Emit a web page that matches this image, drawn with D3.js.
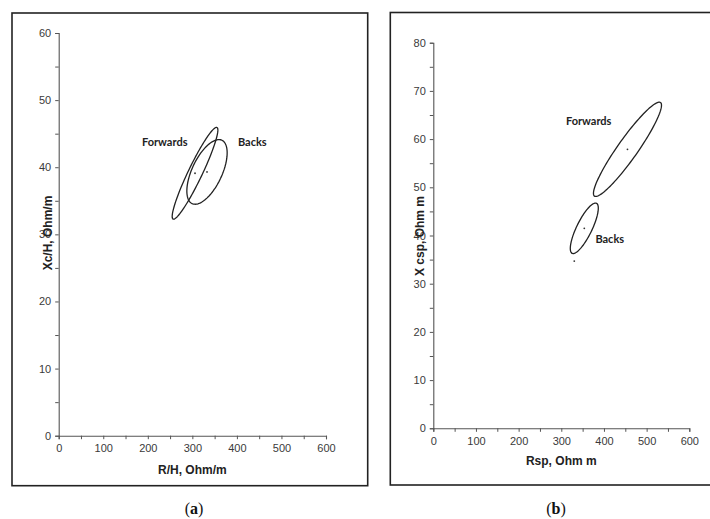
<!DOCTYPE html>
<html>
<head>
<meta charset="utf-8">
<script src="https://cdn.jsdelivr.net/npm/d3@7"></script>
<style>
  body { margin: 0; background: #fff; }
  svg { display: block; }
  .tick text { font-family: "Liberation Sans", Arial, sans-serif; font-size: 11px; fill: #3a3a3a; }
  .domain, .tick line { stroke: #555; }
</style>
</head>
<body>
<div id="chart"></div>
<script>
// panel (a): R/H vs Xc/H
const groupsA = ["Forwards", "Backs"];
const centersA = [[306, 39.1], [332.9, 39.3]];
const tipsA = [[355.3, 45.93], [366.3, 44.02]];   // end of major axis
const sidesA = [[320.1, 38.64], [363.4, 38.35]];  // end of minor axis
const labelPosA = [[238, 43.8], [434.6, 43.8]];

// panel (b): Rsp vs Xcsp
const groupsB = ["Forwards", "Backs"];
const centersB = [[455.1, 57.88], [353.9, 41.49]];
const tipsB = [[532.5, 67.59], [382.5, 46.68]];
const sidesB = [[474.3, 56.70], [370.0, 40.79]];
const labelPosB = [[364.2, 63.8], [413.6, 39.3]];
const strayB = [[330.4, 34.7]];

const xTicks = d3.range(0, 601, 50);
const yTicksA = d3.range(0, 61, 5);
const yTicksB = d3.range(0, 81, 5);

const W = 710, H = 519;
const svg = d3.select("#chart").append("svg")
    .attr("width", W)
    .attr("height", H);

function drawPanel(p) {
    // frame
    svg.append("rect")
        .attr("x", p.box[0]).attr("y", p.box[1])
        .attr("width", p.box[2]).attr("height", p.box[3])
        .attr("fill", "none")
        .attr("stroke", "#222")
        .attr("stroke-width", 1.6);

    const x = d3.scaleLinear().domain([0, 600]).range(p.xr);
    const y = d3.scaleLinear().domain([0, p.ymax]).range(p.yr);

    svg.append("g")
        .attr("transform", `translate(0,${p.yr[0]})`)
        .call(d3.axisBottom(x).tickValues(xTicks).tickSize(3.5).tickPadding(5)
            .tickFormat(d => d % 100 === 0 ? d : ""));

    svg.append("g")
        .attr("transform", `translate(${p.xr[0]},0)`)
        .call(d3.axisLeft(y).tickValues(p.yTicks).tickSize(3.5).tickPadding(4)
            .tickFormat(d => d % 10 === 0 ? d : ""));

    svg.selectAll(".domain").attr("stroke-width", 1.1);

    // ellipses in data space
    const ts = d3.range(0, 2 * Math.PI + 0.001, Math.PI / 60);
    const line = d3.line().x(d => x(d[0])).y(d => y(d[1]));
    p.centers.forEach((c, i) => {
        const u = [p.tips[i][0] - c[0], p.tips[i][1] - c[1]];
        const v = [p.sides[i][0] - c[0], p.sides[i][1] - c[1]];
        const pts = ts.map(t => [c[0] + Math.cos(t) * u[0] + Math.sin(t) * v[0],
                                 c[1] + Math.cos(t) * u[1] + Math.sin(t) * v[1]]);
        svg.append("path")
            .attr("d", line(pts))
            .attr("fill", "none")
            .attr("stroke", "#222")
            .attr("stroke-width", 1.3);
    });

    svg.selectAll(null)
        .data(p.centers.concat(p.stray || []))
        .enter().append("circle")
        .attr("cx", d => x(d[0]))
        .attr("cy", d => y(d[1]))
        .attr("r", 0.9)
        .attr("fill", "#333");

    svg.selectAll(null)
        .data(p.groups)
        .enter().append("text")
        .attr("x", (d, i) => x(p.labelPos[i][0]))
        .attr("y", (d, i) => y(p.labelPos[i][1]))
        .attr("dy", "0.35em")
        .attr("text-anchor", "middle")
        .style("font-family", "Lato, 'Open Sans', sans-serif")
        .style("font-weight", "bold")
        .style("font-size", "11px")
        .style("fill", "#222")
        .text(d => d);

    // axis titles
    svg.append("text")
        .attr("x", (p.xr[0] + p.xr[1]) / 2)
        .attr("y", p.xTitleY)
        .attr("text-anchor", "middle")
        .style("font-family", "'Liberation Sans', Arial, sans-serif")
        .style("font-weight", "bold")
        .style("font-size", "12px")
        .style("fill", "#222")
        .text(p.xTitle);

    svg.append("text")
        .attr("transform", `translate(${p.yTitlePos[0]},${p.yTitlePos[1]}) rotate(-90)`)
        .attr("text-anchor", "middle")
        .attr("dy", "0.35em")
        .style("font-family", "'Liberation Sans', Arial, sans-serif")
        .style("font-weight", "bold")
        .style("font-size", "12px")
        .style("fill", "#222")
        .text(p.yTitle);

    // caption
    const cap = svg.append("text")
        .attr("x", p.capX)
        .attr("y", 514)
        .attr("text-anchor", "middle")
        .style("font-family", "'Liberation Serif', 'DejaVu Serif', serif")
        .style("font-size", "16px")
        .style("fill", "#111");
    cap.append("tspan").text("(");
    cap.append("tspan").style("font-weight", "bold").text(p.cap);
    cap.append("tspan").text(")");
}

drawPanel({
    box: [12, 13, 355.7, 472.7],
    xr: [58.7, 326], yr: [435.7, 33], ymax: 60, yTicks: yTicksA,
    groups: groupsA, centers: centersA, tips: tipsA, sides: sidesA, labelPos: labelPosA,
    xTitle: "R/H, Ohm/m", xTitleY: 474, yTitle: "Xc/H, Ohm/m", yTitlePos: [48, 233],
    capX: 194, cap: "a"
});

drawPanel({
    box: [390.3, 12.5, 330, 472.5],
    xr: [433.3, 689.3], yr: [428.3, 42.7], ymax: 80, yTicks: yTicksB,
    groups: groupsB, centers: centersB, tips: tipsB, sides: sidesB, labelPos: labelPosB,
    stray: strayB,
    xTitle: "Rsp, Ohm m", xTitleY: 465, yTitle: "X csp, Ohm m", yTitlePos: [420, 236],
    capX: 556, cap: "b"
});
</script>
</body>
</html>
